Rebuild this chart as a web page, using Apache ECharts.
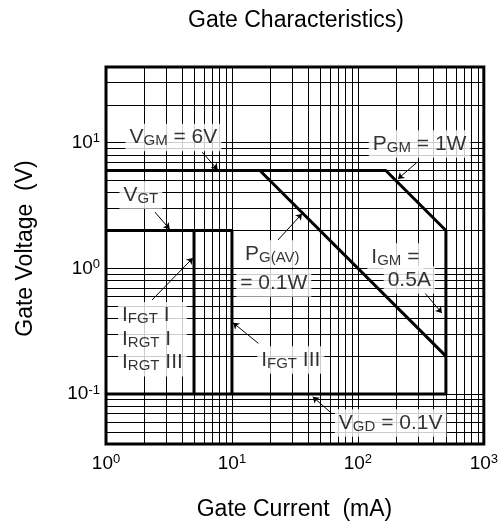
<!DOCTYPE html>
<html><head><meta charset="utf-8">
<script src="https://cdn.jsdelivr.net/npm/echarts@6/dist/echarts.min.js"></script>
<style>html,body{margin:0;padding:0;background:#fff}#c{width:501px;height:526px}</style>
</head><body><div id="c"></div>
<script>
// ---- data (mA, V) ----
const xRange = [1, 1000];
const yRange = [0.04, 40];
const xGridValues = [2,3,4,5,6,7,8,9,10,20,30,40,50,60,70,80,90,100,200,300,400,500,600,700,800,900];
const yGridValues = [0.05,0.06,0.07,0.08,0.09,0.1,0.2,0.3,0.4,0.5,0.6,0.7,0.8,0.9,1,2,3,4,5,6,7,8,9,10,20,30];
// peak rating boundary: VGM=6V, PGM=1W, IGM=0.5A, VGD=0.1V
const ratingCurve = [[1,6],[166.7,6],[500,2],[500,0.1],[1,0.1]];
// average gate power 0.1W
const pgavCurve = [[16.67,6],[500,0.2]];
// VGT = 2V and IFGT III = 10mA
const vgtCurve = [[1,2],[10,2],[10,0.1]];
// IFGT I / IRGT I / IRGT III = 5mA
const ifgtCurve = [[5,2],[5,0.1]];

// annotation texts and their anchor points (data coords)
const labelTexts = [
  '{m|V}{s|GM}{m| = 6V}',
  '{m|V}{s|GT}',
  '{m|P}{s|GM}{m| = 1W}',
  '{m|P}{s|G(AV)}',
  '{m|= 0.1W}',
  '{m|I}{s|GM}{m| =}',
  '{m|0.5A}',
  '{m|I}{s|FGT}{m| III}',
  '{m|V}{s|GD}{m| = 0.1V}',
  '{m|I}{s|FGT}{m| I}\n{m|I}{s|RGT}{m| I}\n{m|I}{s|RGT}{m| III}'
];
const labelPoints = [
  [3.43, 11.0], [1.89, 3.83], [309, 9.75], [20.9, 1.30], [21.5, 0.764],
  [198.5, 1.23], [256, 0.807], [29.3, 0.186], [182, 0.0587], [1.245, 0.273]
];
// leader lines: from label -> to curve
const leaders = [
  [[5.8, 8.4],[7.7, 6.1]],
  [[2.45, 2.8],[3.2, 2.05]],
  [[292, 6.92],[208, 5.15]],
  [[23.2, 1.68],[36, 2.72]],
  [[340, 0.637],[464, 0.441]],
  [[2.32, 0.56],[4.9, 1.21]],
  [[16.2, 0.253],[10.2, 0.369]],
  [[61.8, 0.0702],[43.8, 0.0951]]
];

const FONT = 'Liberation Sans, Arial, Helvetica, sans-serif';
const chart = echarts.init(document.getElementById('c'), null, {renderer:'canvas'});

function powLabel(v){
  const l = Math.log10(v);
  const e = Math.round(l);
  if (Math.abs(l - e) > 1e-6) return '';
  return '{b|10}{t|' + e + '}';
}
const tickRich = {
  b:{fontSize:19, fontFamily:FONT, color:'#000'},
  t:{fontSize:13, fontFamily:FONT, color:'#000', padding:[0,0,8,0]}
};
const annRich = {
  m:{fontSize:21, fontFamily:FONT, color:'#000', lineHeight:23.5},
  s:{fontSize:15, fontFamily:FONT, color:'#000', padding:[7,0,0,0]}
};

const lineStyleThick = {color:'#000', width:3};
function thick(data){
  return {type:'line', data:data, showSymbol:false, symbol:'none', z:6, silent:true,
          lineStyle:lineStyleThick, animation:false, clip:true};
}

const annData = labelTexts.map((t,i)=>{
  const left = (i === labelTexts.length-1);
  return {
    value: labelPoints[i],
    label:{
      show:true, formatter:t, rich:annRich,
      position: left ? 'right' : 'inside',
      distance: 0,
      align: left ? 'left' : 'center',
      verticalAlign:'middle',
      backgroundColor:'#fff', padding:[2,4]
    }
  };
});

chart.setOption({
  animation:false,
  backgroundColor:'#fff',
  grid:{left:106, right:17, top:67, bottom:82, show:true, borderColor:'#000', borderWidth:3, backgroundColor:'transparent', z:10},
  xAxis:{type:'log', logBase:10, min:xRange[0], max:xRange[1],
    axisLine:{show:false}, axisTick:{show:false}, splitLine:{show:false}, minorSplitLine:{show:false},
    axisLabel:{formatter:powLabel, rich:tickRich, margin:9}},
  yAxis:{type:'log', logBase:10, min:yRange[0], max:yRange[1],
    axisLine:{show:false}, axisTick:{show:false}, splitLine:{show:false}, minorSplitLine:{show:false},
    axisLabel:{formatter:powLabel, rich:tickRich, margin:6}},
  graphic:[
    {type:'text', x:296, y:21, style:{text:'Gate Characteristics)', fontSize:23, fontFamily:FONT, fill:'#000', align:'center', verticalAlign:'middle'}},
    {type:'text', x:26, y:248.5, rotation:Math.PI/2, style:{text:'Gate Voltage  (V)', fontSize:23, fontFamily:FONT, fill:'#000', align:'center', verticalAlign:'middle'}},
    {type:'text', x:294.5, y:510, style:{text:'Gate Current  (mA)', fontSize:23, fontFamily:FONT, fill:'#000', align:'center', verticalAlign:'middle'}}
  ],
  series:[
    {type:'line', data:[], z:1, silent:true,
     markLine:{z:1, silent:true, symbol:'none', animation:false, label:{show:false},
       lineStyle:{color:'#000', width:1, type:'solid'},
       emphasis:{disabled:true},
       data:[...xGridValues.map(v=>({xAxis:v})), ...yGridValues.map(v=>({yAxis:v}))]}},
    {type:'lines', coordinateSystem:'cartesian2d', z:3, silent:true, animation:false,
     symbol:['none','arrow'], symbolSize:6,
     lineStyle:{color:'#000', width:1, opacity:1, curveness:0},
     data: leaders.map(c=>({coords:c}))},
    {type:'scatter', z:4, silent:true, symbolSize:0, data:annData},
    thick(ratingCurve), thick(pgavCurve), thick(vgtCurve), thick(ifgtCurve)
  ]
});
</script></body></html>
